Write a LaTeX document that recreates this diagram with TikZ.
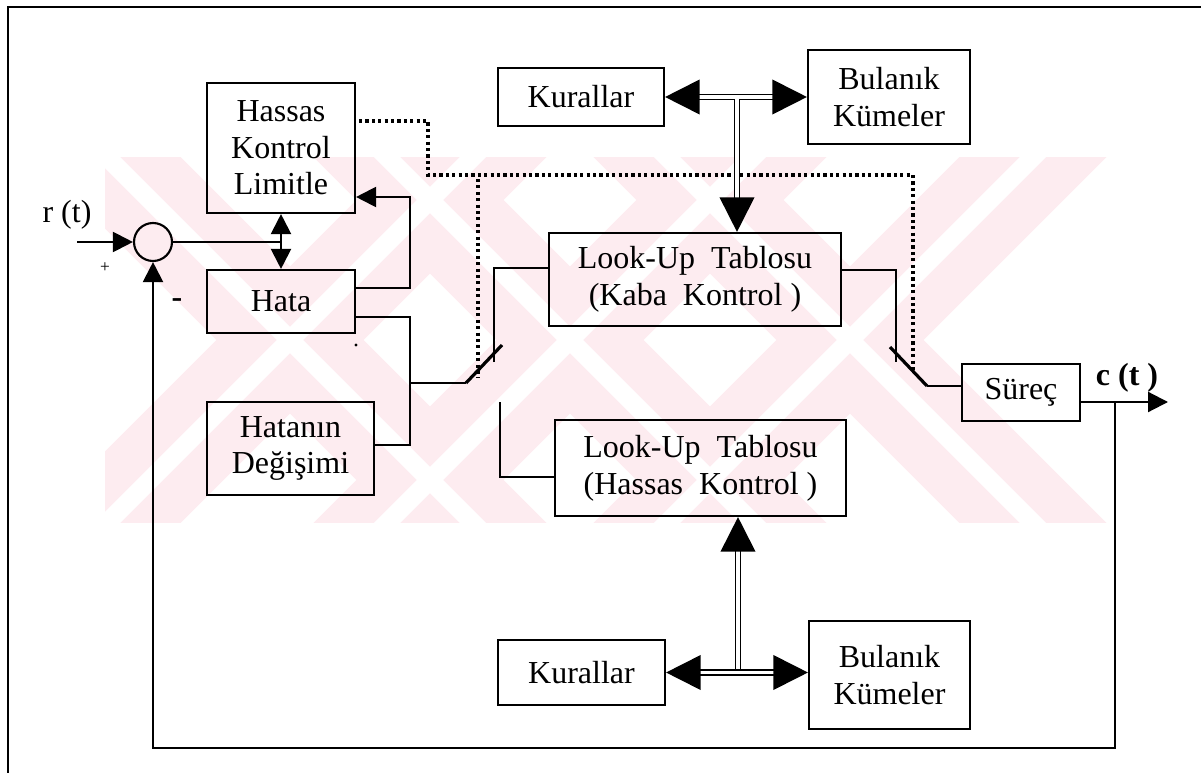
\documentclass[tikz,border=0pt]{standalone}
\usepackage{fontspec}
\setmainfont{Liberation Serif}
\usetikzlibrary{arrows.meta}
\definecolor{wmpink}{RGB}{253,236,240}
\begin{document}
\begin{tikzpicture}[x=0.75pt,y=-0.75pt,
  font=\fontsize{24}{27.5}\selectfont,
  box/.style 2 args={draw, line width=1.6pt, inner sep=0pt, align=center,
    minimum width=#1*0.75pt, minimum height=#2*0.75pt},
  wire/.style={line width=1.6pt},
  arr/.style={wire, -{Triangle[length=15pt,width=15pt]}},
  arrs/.style={wire, {Triangle[length=15pt,width=15pt]}-{Triangle[length=15pt,width=15pt]}},
  dbl/.style={double, double distance=2.4pt, line width=1.4pt},
  bigarr/.style={dbl, -{Triangle[length=26pt,width=26pt]}},
  bigarrs/.style={dbl, {Triangle[length=26pt,width=26pt]}-{Triangle[length=26pt,width=26pt]}},
  dotline/.style={line width=2.4pt, line cap=butt, dash pattern=on 2.3pt off 2.5pt},
  blade/.style={line width=2.4pt},
]
\useasboundingbox (0,0) rectangle (1201,773);

% faint striped background band
\begin{scope}
  \clip (105,158) rectangle (1112,522);
  \foreach \cx in {290,570,850}{
    \draw[wmpink, line width=78pt] (\cx-300,40) -- (\cx+300,640);
    \draw[wmpink, line width=78pt] (\cx+300,40) -- (\cx-300,640);
  }
  \foreach \cx in {290,570,850}{
    \draw[white, line width=14pt] (\cx-300,40) -- (\cx+300,640);
    \draw[white, line width=14pt] (\cx+300,40) -- (\cx-300,640);
  }
\end{scope}

% outer frame (top and left edges)
\coordinate (fr1) at (8,773);
\coordinate (fr2) at (8,7);
\coordinate (fr3) at (1201,7);
\draw[line width=1.8pt] (fr1) -- (fr2) -- (fr3);

% blocks
\node[box={148}{130}] (hkl) at (281,148) {Hassas\\Kontrol\\Limitle};
\node[box={148}{63}] (hata) at (281,301.5) {Hata};
\node[box={167}{93}] (hdeg) at (290.5,448.5) {Hatanın\\Değişimi};
\node[box={166}{58}] (kur1) at (581,97) {Kurallar};
\node[box={162}{94}] (bul1) at (889,97) {Bulanık\\Kümeler};
\node[box={292}{93}] (kaba) at (695,279.5) {Look-Up\hspace{0.5em}Tablosu\\(Kaba\hspace{0.5em}Kontrol )};
\node[box={291}{96}] (hlut) at (700.5,468) {Look-Up\hspace{0.5em}Tablosu\\(Hassas\hspace{0.5em}Kontrol )};
\node[box={167}{65}] (kur2) at (581.5,672.5) {Kurallar};
\node[box={161}{108}] (bul2) at (889.5,675) {Bulanık\\Kümeler};
\node[box={118}{57}] (surec) at (1021,392.5) {Süreç};
\node[circle, draw, line width=1.6pt, minimum size=28.5pt, inner sep=0pt] (sum) at (153,242) {};

% labels
\node (rt) at (67,215) {r (t)};
\node[font=\fontsize{24}{27.5}\selectfont\bfseries] (ct) at (1127,378) {c (t )};
\node[font=\fontsize{13}{14}\selectfont] (plus) at (105,268) {+};
\node (minus) at (177,303) {\textbf{-}};
\fill (356,345) circle (1.2pt);

% reference input and error path
\coordinate (rin) at (77,242);
\draw[arr] (rin) -- (sum.west);
\draw[wire] (sum.east) -- (sum.east -| hkl.south);
\draw[arrs] (hkl.south) -- (hata.north);

\coordinate (fbA) at (410,288);
\coordinate (fbB) at (410,197);
\draw[arr] (fbA -| hata.east) -- (fbA) -- (fbB) -- (fbB -| hkl.east);

\coordinate (mxT) at (410,317);
\coordinate (mxB) at (410,445);
\coordinate (mxM) at (410,383);
\draw[wire] (mxT -| hata.east) -- (mxT) -- (mxB) -- (mxB -| hdeg.east);

% input switch
\coordinate (s1a) at (466,383);
\coordinate (s1b) at (502,345);
\coordinate (s1c) at (494,362);
\coordinate (kin) at (494,268);
\draw[wire] (mxM) -- (s1a);
\draw[blade] (s1a) -- (s1b);
\draw[wire] (s1c) -- (kin) -- (kin -| kaba.west);
\coordinate (s2c) at (500,402);
\coordinate (hin) at (500,477);
\draw[wire] (s2c) -- (hin) -- (hin -| hlut.west);

% output switch
\coordinate (kout) at (896,270);
\coordinate (s3c) at (896,362);
\draw[wire] (kout -| kaba.east) -- (kout) -- (s3c);
\coordinate (s3b) at (890,347);
\coordinate (s3a) at (927,386);
\draw[blade] (s3b) -- (s3a);
\draw[wire] (s3a) -- (s3a -| surec.west);

% plant output and feedback
\coordinate (tap) at (1115,402);
\coordinate (cend) at (1168,402);
\draw[arr] (tap -| surec.east) -- (cend);
\coordinate (fbR) at (1115,748);
\draw[arr] (tap) -- (fbR) -- (fbR -| sum.south) -- (sum.south);

% switch control (dotted)
\coordinate (d1) at (428,121);
\coordinate (d2) at (428,175);
\coordinate (d3) at (913,175);
\coordinate (d4) at (913,372);
\coordinate (d5) at (478,179);
\coordinate (d6) at (478,378);
\draw[dotline] (d1 -| hkl.east) ++(3,0) -- (d1) -- (d2) -- (d3) -- (d4);
\draw[dotline] (d5) -- (d6);

% rule bases and fuzzy sets
\draw[bigarrs] (kur1.east) -- (bul1.west);
\coordinate (jt) at (737,99);
\draw[bigarr] (jt) -- (jt |- kaba.north);
\coordinate (jb) at (738,669);
\draw[bigarr] (jb) -- (jb |- hlut.south);
\draw[bigarrs] (kur2.east) -- (kur2.east -| bul2.west);
\end{tikzpicture}
\end{document}
